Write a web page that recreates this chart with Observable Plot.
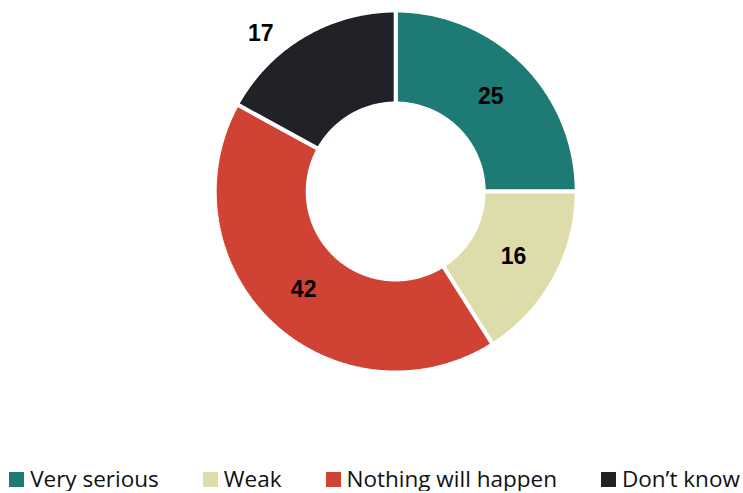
<!DOCTYPE html>
<html>
<head>
<meta charset="utf-8">
<script src="https://cdn.jsdelivr.net/npm/d3@7"></script>
<script src="https://cdn.jsdelivr.net/npm/@observablehq/plot@0.6"></script>
<style>
  html, body { margin: 0; padding: 0; background: #fff; overflow: hidden; }
  #chart svg { display: block; }
  .legend { display: flex; justify-content: center; gap: 44px; margin-top: 7px; height: 24px;
            font-family: "Open Sans", sans-serif; font-size: 22.5px; line-height: 24px; color: #111; padding-left: 6px; }
  .legend .item { display: flex; align-items: center; white-space: nowrap; }
  .legend .sw { width: 15px; height: 15px; margin-right: 6px; margin-top: 1px; }
</style>
</head>
<body>
<div id="chart"></div>
<script>
const categories = ["Very serious", "Weak", "Nothing will happen", "Don\u2019t know"];
const values = [25, 16, 42, 17];
const colors = ["#1e7a74", "#dedcaa", "#d04334", "#212227"];
const outsideLabels = ["Don\u2019t know"];

const OUTER = 1, INNER = 0.486;
const pie = d3.pie().sort(null).value(d => d)(values);

// ring outlines (angles clockwise from 12 o'clock)
const ringPoints = [];
pie.forEach((p, i) => {
  const n = Math.max(2, Math.ceil((p.endAngle - p.startAngle) / (Math.PI / 360)));
  const pts = [];
  for (let k = 0; k <= n; k++) {
    const a = p.startAngle + (p.endAngle - p.startAngle) * k / n;
    pts.push({x: OUTER * Math.sin(a), y: OUTER * Math.cos(a)});
  }
  for (let k = n; k >= 0; k--) {
    const a = p.startAngle + (p.endAngle - p.startAngle) * k / n;
    pts.push({x: INNER * Math.sin(a), y: INNER * Math.cos(a)});
  }
  pts.push(pts[0]);
  pts.forEach(pt => ringPoints.push({...pt, cat: categories[i]}));
});

const labels = pie.map((p, i) => {
  const mid = (p.startAngle + p.endAngle) / 2;
  const out = outsideLabels.includes(categories[i]);
  const r = out ? 1.15 : (OUTER + INNER) / 2;
  return {x: r * Math.sin(mid), y: r * Math.cos(mid), v: values[i], cat: categories[i], out};
});

const cx = 395.2, cy = 191, R = 181;
const plot = Plot.plot({
  width: 743,
  height: 460,
  margin: 0,
  x: {domain: [-1, 1], range: [cx - R, cx + R], axis: null},
  y: {domain: [-1, 1], range: [cy + R, cy - R], axis: null},
  color: {domain: categories, range: colors},
  marks: [
    Plot.line(ringPoints, {x: "x", y: "y", z: "cat", fill: "cat", stroke: "white", strokeWidth: 4, strokeLinejoin: "miter", curve: "linear"}),
    Plot.text(labels.filter(d => !d.out), {x: "x", y: "y", text: "v", fontSize: 23, fontWeight: "bold", fontFamily: "Liberation Sans, Arial, sans-serif", fill: "#000"}),
    Plot.text(labels.filter(d => d.out), {x: "x", y: "y", text: "v", dx: -29, dy: 21, fontSize: 23, fontWeight: "bold", fontFamily: "Liberation Sans, Arial, sans-serif", fill: "#000"})
  ]
});
document.getElementById("chart").appendChild(plot);

const legend = document.createElement("div");
legend.className = "legend";
categories.forEach((c, i) => {
  const item = document.createElement("div");
  item.className = "item";
  const sw = document.createElement("span");
  sw.className = "sw";
  sw.style.background = colors[i];
  const t = document.createElement("span");
  t.textContent = c;
  item.appendChild(sw);
  item.appendChild(t);
  legend.appendChild(item);
});
document.body.appendChild(legend);
</script>
</body>
</html>
